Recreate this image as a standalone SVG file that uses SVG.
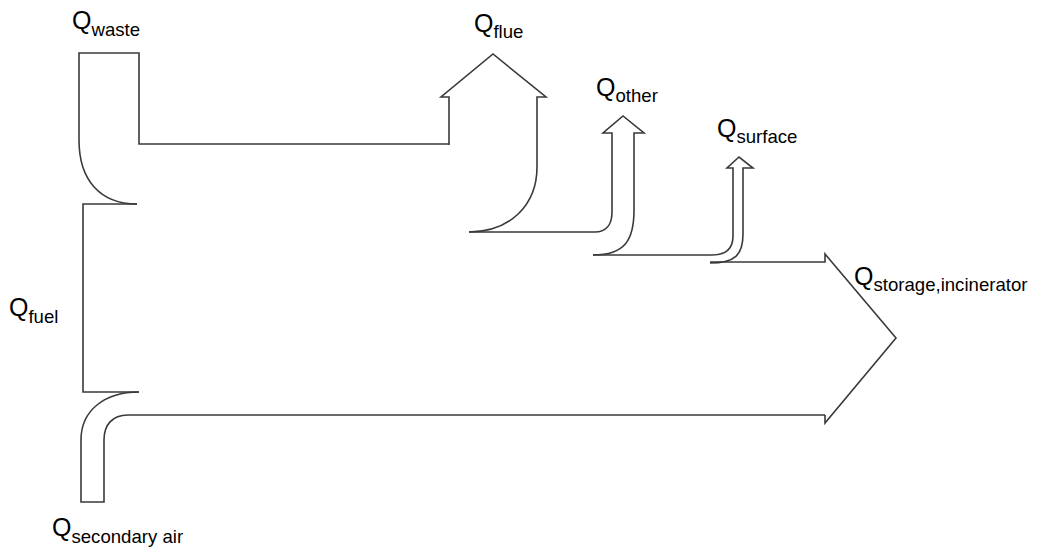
<svg xmlns="http://www.w3.org/2000/svg" width="1042" height="556" viewBox="0 0 1042 556">
<style>
.s{fill:none;stroke:#3a3a3a;stroke-width:1.6;stroke-linejoin:miter}
.q{font-family:"Liberation Sans",Arial,sans-serif;font-size:25px;fill:#000}
.sub{font-size:18.6px}
</style>
<rect width="1042" height="556" fill="#fff"/>
<g id="connectors">
<g id="waste">
<path class="s" d="M79,140 V53 H139 V144 H449"/>
<path class="s" d="M79,140 C79,180 100,204 137,204"/>
<text class="q" x="72" y="29">Q<tspan class="sub" dy="7">waste</tspan></text>
</g>
<g id="fuel">
<path class="s" d="M137,204 H83 V392 H139"/>
<text class="q" x="9" y="316">Q<tspan class="sub" dy="7">fuel</tspan></text>
</g>
<g id="secondary-air">
<path class="s" d="M139,392 C105,392 81,410 81,440 V502 H104 V440 C104,425 112,415 128,415 H825"/>
<text class="q" x="52" y="536">Q<tspan class="sub" dy="7">secondary air</tspan></text>
</g>
<g id="storage">
<path class="s" d="M825,415 V423 L896,338 L825,254 V262 H710"/>
<text class="q" x="854" y="285">Q<tspan class="sub" dy="6">storage,incinerator</tspan></text>
</g>
<g id="surface">
<path class="s" d="M710,263 C735,263 743,255 743,234 V168 H753 L739,157 L727,168 H733 V236 C733,249 726,255 712,255 H593"/>
<text class="q" x="717" y="137">Q<tspan class="sub" dy="6">surface</tspan></text>
</g>
<g id="other">
<path class="s" d="M593,255 C625,255 634,240 634,210 V133 H644 L623,116 L603,133 H612 V212 C612,226 605,232 595,232 H469"/>
<text class="q" x="596" y="96">Q<tspan class="sub" dy="6">other</tspan></text>
</g>
<g id="flue">
<path class="s" d="M469,232 C510,232 537,205 537,167 V97 H546 L493,54 L441,97 H449 V145"/>
<text class="q" x="474" y="32">Q<tspan class="sub" dy="6">flue</tspan></text>
</g>
</g>
</svg>
